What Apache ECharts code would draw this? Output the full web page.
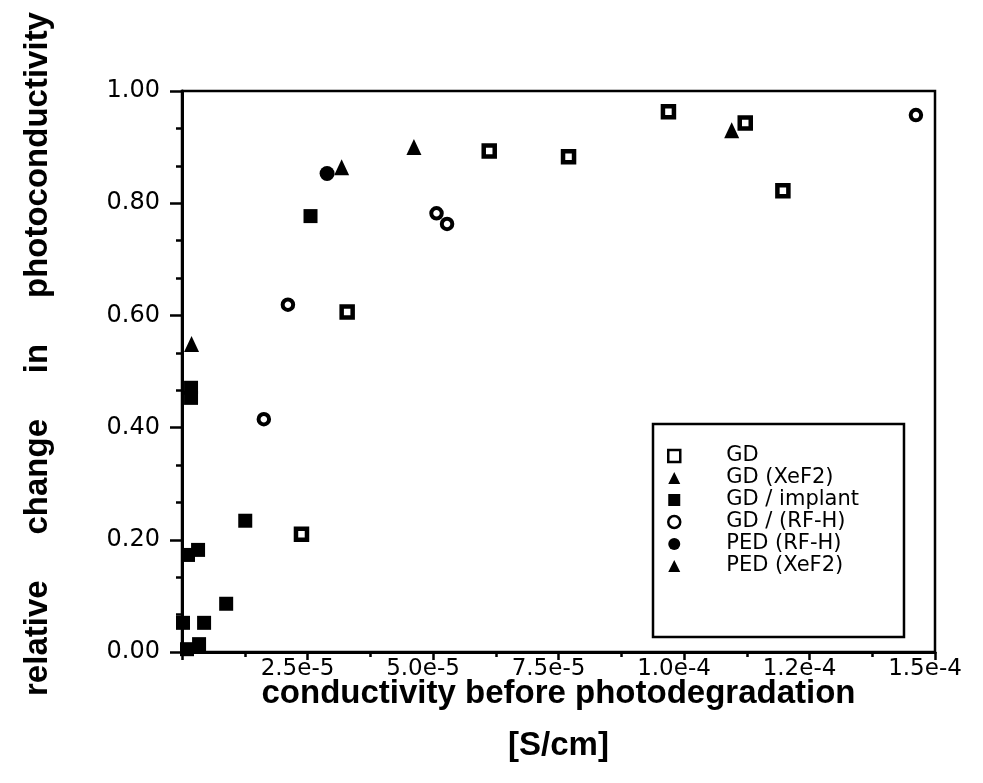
<!DOCTYPE html>
<html>
<head>
<meta charset="utf-8">
<script src="https://cdn.jsdelivr.net/npm/echarts@6/dist/echarts.min.js"></script>
<style>html,body{margin:0;padding:0;background:#fff;}#c{width:983px;height:783px;}</style>
</head>
<body>
<div id="c"></div>
<script>
// ---- data (x: conductivity S/cm, y: relative change) ----
const gdX = [2.38e-5, 3.29e-5, 6.12e-5, 7.70e-5, 9.69e-5, 1.122e-4, 1.197e-4];
const gdY = [0.210, 0.606, 0.893, 0.883, 0.963, 0.943, 0.822];
const gdXef2X = [1.9e-6, 1.095e-4];
const gdXef2Y = [0.549, 0.930];
const implantX = [1.8e-6, 1.8e-6, 1.2e-6, 3.2e-6, 8.8e-6, 4.4e-6, 0.2e-6, 3.4e-6, 1.0e-6, 1.26e-5, 2.56e-5];
const implantY = [0.471, 0.453, 0.173, 0.182, 0.086, 0.052, 0.052, 0.014, 0.005, 0.234, 0.777];
const rfhX = [1.63e-5, 2.11e-5, 5.07e-5, 5.28e-5, 1.462e-4];
const rfhY = [0.415, 0.619, 0.782, 0.763, 0.957];
const pedRfhX = [2.89e-5];
const pedRfhY = [0.853];
const pedXef2X = [3.18e-5, 4.62e-5];
const pedXef2Y = [0.864, 0.900];
const seriesNames = ['GD', 'GD (XeF2)', 'GD / implant', 'GD / (RF-H)', 'PED (RF-H)', 'PED (XeF2)'];
const xTickLabels = ['', '2.5e-5', '5.0e-5', '7.5e-5', '1.0e-4', '1.2e-4', '1.5e-4'];
const yTickLabels = ['0.00', '0.20', '0.40', '0.60', '0.80', '1.00'];

const zip = (xs, ys) => xs.map((x, i) => [x, ys[i]]);
const chart = echarts.init(document.getElementById('c'), null, {renderer: 'canvas'});
const tickFont = 'DejaVu Sans';
const openSq = {color: '#fff', borderColor: '#000', borderWidth: 4.5, opacity: 1};
const openCi = {color: '#fff', borderColor: '#000', borderWidth: 4, opacity: 1};
const solid = {color: '#000', borderWidth: 0, opacity: 1};

chart.setOption({
  animation: false,
  backgroundColor: '#fff',
  grid: {left: 182, right: 48, top: 91, bottom: 131, outerBoundsMode: 'none', containLabel: false,
         show: true, borderColor: '#000', borderWidth: 2.5, backgroundColor: 'transparent'},
  xAxis: {
    type: 'value', min: 0, max: 1.5e-4, interval: 2.5e-5,
    axisLine: {lineStyle: {color: '#000', width: 3}},
    axisTick: {show: true, inside: false, length: 8, lineStyle: {color: '#000', width: 2.5}},
    minorTick: {show: true, splitNumber: 2, length: 5, lineStyle: {color: '#000', width: 2.5}},
    splitLine: {show: false},
    axisLabel: {
      color: '#000', fontFamily: tickFont, fontSize: 23, margin: 6, padding: [0, 20, 0, 0],
      formatter: (v) => xTickLabels[Math.round(v / 2.5e-5)] || ''
    },
    name: 'conductivity before photodegradation\n[S/cm]',
    nameLocation: 'middle', nameGap: 16, nameMoveOverlap: false,
    nameTextStyle: {color: '#000', fontFamily: 'Liberation Sans', fontWeight: 'bold', fontSize: 33, lineHeight: 52, verticalAlign: 'top'}
  },
  yAxis: {
    type: 'value', min: 0, max: 1, interval: 0.2,
    axisLine: {lineStyle: {color: '#000', width: 3}},
    axisTick: {show: true, inside: false, length: 12, lineStyle: {color: '#000', width: 2.5}},
    minorTick: {show: true, splitNumber: 3, length: 6, lineStyle: {color: '#000', width: 2.5}},
    splitLine: {show: false},
    axisLabel: {
      color: '#000', fontFamily: tickFont, fontSize: 24, margin: 22,
      formatter: (v) => yTickLabels[Math.round(v / 0.2)]
    },
    name: 'relative     change     in     photoconductivity',
    nameLocation: 'middle', nameGap: 128, nameRotate: 90, nameMoveOverlap: false,
    nameTextStyle: {color: '#000', fontFamily: 'Liberation Sans', fontWeight: 'bold', fontSize: 33, padding: [0, 0, 0, 35]}
  },
  legend: {
    orient: 'vertical', left: 653, top: 424,
    data: seriesNames,
    padding: [21, 45, 60, 14],
    itemGap: 0, itemWidth: 12, itemHeight: 12,
    borderColor: '#000', borderWidth: 2.5, borderRadius: 0,
    itemStyle: {borderWidth: 2.5, opacity: 1},
    textStyle: {color: '#000', fontFamily: tickFont, fontSize: 21, lineHeight: 22, padding: [0, 0, 0, 41]}
  },
  series: [
    {name: seriesNames[0], type: 'scatter', symbol: 'rect', symbolSize: 11, itemStyle: openSq, data: zip(gdX, gdY)},
    {name: seriesNames[1], type: 'scatter', symbol: 'triangle', symbolSize: [15, 16], itemStyle: solid, data: zip(gdXef2X, gdXef2Y)},
    {name: seriesNames[2], type: 'scatter', symbol: 'rect', symbolSize: 14, itemStyle: solid, data: zip(implantX, implantY)},
    {name: seriesNames[3], type: 'scatter', symbol: 'circle', symbolSize: 10.5, itemStyle: openCi, data: zip(rfhX, rfhY)},
    {name: seriesNames[4], type: 'scatter', symbol: 'circle', symbolSize: 15, itemStyle: solid, data: zip(pedRfhX, pedRfhY)},
    {name: seriesNames[5], type: 'scatter', symbol: 'triangle', symbolSize: [15, 16], itemStyle: solid, data: zip(pedXef2X, pedXef2Y)}
  ]
});
</script>
</body>
</html>
